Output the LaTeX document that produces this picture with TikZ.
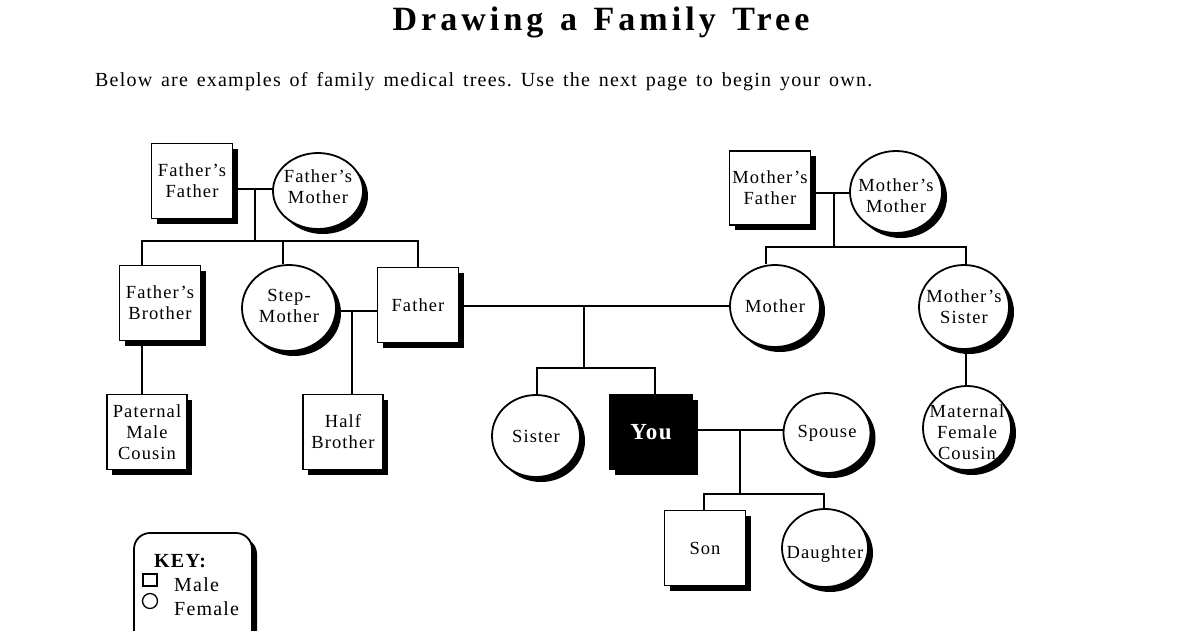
\documentclass[tikz,border=0pt]{standalone}
\usepackage{fontspec}
\setmainfont{Liberation Serif}[LetterSpace=6]
\newfontfamily\titlefont{Liberation Serif}[LetterSpace=12]
\usetikzlibrary{shapes.geometric,shadows,backgrounds}
\tikzset{
  person/.style={draw, line width=1.8pt, fill=white, align=center, inner sep=0pt,
    font=\fontsize{18.5}{21}\selectfont,
    drop shadow={shadow xshift=5pt, shadow yshift=-5pt, fill=black, opacity=1}},
  male/.style={person, rectangle, minimum width=81pt, minimum height=75pt},
  female/.style={person, ellipse},
  ftext/.style 2 args={label={[align=center, inner sep=0pt, yshift=#1, font=\fontsize{18.5}{21}\selectfont]center:#2}},
  link/.style={line width=1.8pt},
}
\begin{document}
\frenchspacing
\begin{tikzpicture}[x=1pt,y=-1pt]
\useasboundingbox (0,0) rectangle (1200,630);
\node[font=\titlefont\bfseries\fontsize{34}{38}\selectfont, inner sep=0pt] (title) at (601,22) {\makebox[417pt][s]{Drawing a Family Tree}};
\node[anchor=west, font=\fontsize{20}{22}\selectfont, inner sep=0pt] (sub) at (95,82) {\makebox[777pt][s]{Below are examples of family medical trees. Use the next page to begin your own.}};

% father's side
\node[male] (ff) at (192,181) {Father's\\Father};
\node[female, minimum width=90pt, minimum height=76pt, ftext={4pt}{Father's\\Mother}] (fm) at (318,191) {};
\node[male] (fb) at (160,303) {Father's\\Brother};
\node[female, minimum width=94pt, minimum height=86pt, ftext={2pt}{Step-\\Mother}] (sm) at (289,308) {};
\node[male] (fa) at (418,305) {Father};
\node[male, minimum width=80pt] (pc) at (147,432) {Paternal\\Male\\Cousin};
\node[male, minimum width=80pt] (hb) at (343,432) {Half\\Brother};
% mother's side
\node[male, minimum height=74pt] (mf) at (770,188) {Mother's\\Father};
\node[female, minimum width=92pt, minimum height=82pt, ftext={-4pt}{Mother's\\Mother}] (mm) at (896,192) {};
\node[female, minimum width=90pt, minimum height=82pt, ftext={0pt}{Mother}] (mo) at (775,306) {};
\node[female, minimum width=90pt, minimum height=84pt, ftext={0pt}{Mother's\\Sister}] (ms) at (964,307) {};
\node[female, minimum width=88pt, minimum height=84pt, ftext={-4pt}{Maternal\\Female\\Cousin}] (mc) at (967,428) {};
% you
\node[female, minimum width=88pt, minimum height=82pt, ftext={0pt}{Sister}] (si) at (536,436) {};
\node[male, minimum width=83pt, fill=black, text=white, font=\bfseries\fontsize{23}{25}\selectfont] (yo) at (651,432) {You};
\node[female, minimum width=87pt, minimum height=80pt, ftext={0pt}{Spouse}] (sp) at (827,433) {};
\node[male] (so) at (705,548) {Son};
\node[female, minimum width=86pt, minimum height=78pt, ftext={-6pt}{Daughter}] (da) at (825,548) {};

% junctions
\coordinate (c1) at (255,189);
\coordinate (b1) at (255,241);
\coordinate (b1L) at (142,241);
\coordinate (b1M) at (283,241);
\coordinate (b1R) at (418,241);
\coordinate (c2) at (352,311);
\coordinate (c3) at (584,306);
\coordinate (b3) at (584,368);
\coordinate (b3L) at (537,368);
\coordinate (b3R) at (655,368);
\coordinate (c4) at (834,193);
\coordinate (b4) at (834,247);
\coordinate (b4L) at (766,247);
\coordinate (b4R) at (966,247);
\coordinate (c5) at (740,430);
\coordinate (b5) at (740,494);
\coordinate (b5L) at (704,494);
\coordinate (b5R) at (824,494);

\begin{pgfonlayer}{background}
\draw[link] (ff |- c1) -- (fm |- c1);
\draw[link] (sm |- c2) -- (fa |- c2);
\draw[link] (fa |- c3) -- (mo |- c3);
\draw[link] (mf |- c4) -- (mm |- c4);
\draw[link] (yo |- c5) -- (sp |- c5);
\end{pgfonlayer}
\draw[link] (c1) -- (b1);
\draw[link] (b1L |- fb.north) -- (b1L) -- (b1R) -- (b1R |- fa.north);
\draw[link] (b1M) -- (b1M |- sm.north);
\draw[link] (b1L |- fb.south) -- (b1L |- pc.north);
\draw[link] (c2) -- (c2 |- hb.north);
\draw[link] (c3) -- (b3);
\draw[link] (b3L |- si.north) -- (b3L) -- (b3R) -- (b3R |- yo.north);
\draw[link] (c4) -- (b4);
\draw[link] (b4L |- mo.north) -- (b4L) -- (b4R) -- (b4R |- ms.north);
\draw[link] (b4R |- ms.south) -- (b4R |- mc.north);
\draw[link] (c5) -- (b5);
\draw[link] (b5L |- so.north) -- (b5L) -- (b5R) -- (b5R |- da.north);

% key
\node[person, rectangle, rounded corners=16pt, minimum width=118pt, minimum height=120pt] (key) at (193,593) {};
\node[anchor=west, font=\bfseries\fontsize{20}{22}\selectfont, inner sep=0pt] (keyt) at (154,561) {KEY:};
\node[draw, line width=1.3pt, minimum width=14pt, minimum height=12pt, inner sep=0pt] (ksq) at (150,580) {};
\node[draw, circle, line width=1.3pt, minimum size=15pt, inner sep=0pt] (kci) at (150,601) {};
\node[anchor=west, font=\fontsize{20}{22}\selectfont, inner sep=0pt] (kmale) at (174,585) {Male};
\node[anchor=west, font=\fontsize{20}{22}\selectfont, inner sep=0pt] (kfemale) at (174,609) {Female};
\end{tikzpicture}
\end{document}
